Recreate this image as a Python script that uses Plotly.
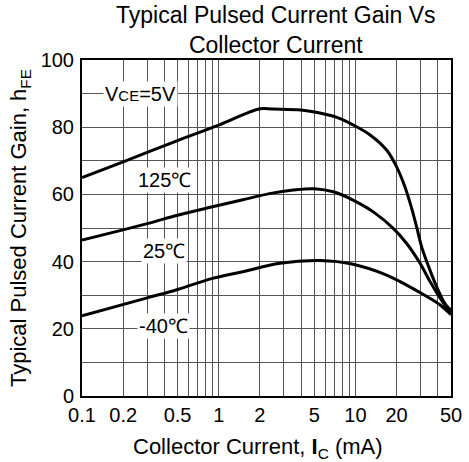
import plotly.graph_objects as go
import math

# ---- data ----
ic_125 = [0.1, 0.2, 0.5, 1, 2, 2.5, 4, 5.5, 7.3, 9.6, 12.8, 16.9, 20, 23, 25.6, 28, 30.5, 34.3, 39.3, 45, 50]
hfe_125 = [65, 69.7, 76, 80.6, 85.5, 85.4, 85.1, 84.2, 82.9, 80.7, 77.7, 73.2, 68.2, 62.3, 56.3, 50.4, 44.4, 38.5, 32.5, 27.6, 25.5]

ic_25 = [0.1, 0.3, 0.5, 0.9, 1.5, 2.4, 3.5, 5, 7, 9.6, 13.5, 18.9, 23.7, 29.7, 35.2, 41.7, 50]
hfe_25 = [46.4, 51.3, 53.8, 56.3, 58.4, 60.3, 61.3, 61.7, 60.7, 58.3, 54.8, 49.9, 45.4, 39.5, 34, 29.1, 24.5]

ic_n40 = [0.1, 0.3, 0.5, 0.9, 1.5, 2.8, 5.5, 9.6, 16.9, 23.7, 33.3, 41.7, 50]
hfe_n40 = [23.9, 29.2, 31.7, 35, 37, 39.5, 40.3, 39.2, 36, 33, 29.6, 27.1, 24.2]

series_names = ["125℃", "25℃", "-40℃"]
label_ic = [0.4, 0.4, 0.395]
label_hfe = [64.3, 43.2, 20.8]

x_grid = [0.1, 0.2, 0.3, 0.4, 0.5, 0.6, 0.7, 0.8, 0.9, 1, 2, 3, 4, 5, 6, 7, 8, 9, 10, 20, 30, 40, 50]
x_labeled = {0.1: "0.1", 0.2: "0.2", 0.5: "0.5", 1: "1", 2: "2", 5: "5", 10: "10", 20: "20", 50: "50"}
y_grid = [0, 10, 20, 30, 40, 50, 60, 70, 80, 90, 100]
y_labeled = [0, 20, 40, 60, 80, 100]

FONT = "Liberation Sans, Arial, sans-serif"

fig = go.Figure()
for xs, ys, nm in [(ic_125, hfe_125, series_names[0]),
                   (ic_25, hfe_25, series_names[1]),
                   (ic_n40, hfe_n40, series_names[2])]:
    fig.add_trace(go.Scatter(x=xs, y=ys, mode="lines", name=nm,
                             line=dict(color="black", width=3, shape="spline", smoothing=1),
                             showlegend=False, hoverinfo="skip"))

annos = []
for nm, lx, ly in zip(series_names, label_ic, label_hfe):
    annos.append(dict(x=math.log10(lx), y=ly, xref="x", yref="y", text=nm, showarrow=False,
                      font=dict(family=FONT, size=20, color="black"),
                      bgcolor="white", borderpad=1))
annos.append(dict(x=math.log10(0.266), y=90, xref="x", yref="y",
                  text="V<span style='font-size:15px'>CE</span>=5V", showarrow=False,
                  font=dict(family=FONT, size=20, color="black"),
                  bgcolor="white", borderpad=1))
# chart title
annos.append(dict(x=0.526, y=1.088, xref="paper", yref="paper", xanchor="center", yanchor="middle",
                  text="Typical Pulsed Current Gain Vs<br>Collector Current", showarrow=False,
                  font=dict(family=FONT, size=23, color="black")))
# x-axis title
annos.append(dict(x=0.476, y=-0.154, xref="paper", yref="paper", xanchor="center", yanchor="middle",
                  text="Collector Current, <b>I</b><sub>C</sub> (mA)", showarrow=False,
                  font=dict(family=FONT, size=22, color="black")))

fig.update_layout(
    width=469, height=462,
    margin=dict(l=82, r=18, t=60, b=66),
    paper_bgcolor="white", plot_bgcolor="white",
    font=dict(family=FONT, color="black"),
    annotations=annos,
)

fig.update_xaxes(
    type="log", range=[math.log10(0.1), math.log10(50)],
    tickvals=x_grid, ticktext=[x_labeled.get(v, "") for v in x_grid],
    tickfont=dict(size=20, family=FONT, color="black"),
    showgrid=True, gridcolor="#555555", gridwidth=1,
    showline=True, linecolor="black", linewidth=2, mirror=True,
    ticks="", ticklabelstandoff=0, zeroline=False, automargin=False,
)
fig.update_yaxes(
    range=[0, 100],
    tickvals=y_grid, ticktext=[str(v) if v in y_labeled else "" for v in y_grid],
    tickfont=dict(size=20, family=FONT, color="black"),
    showgrid=True, gridcolor="#555555", gridwidth=1,
    showline=True, linecolor="black", linewidth=2, mirror=True,
    ticks="", ticklabelstandoff=2, zeroline=False, automargin=False,
    title=dict(text="Typical Pulsed Current Gain, h<sub>FE</sub>",
               font=dict(size=22, family=FONT, color="black"), standoff=8),
)

fig.write_html("out.html", config={"displayModeBar": False},
               post_script="document.body.style.margin='0';document.body.style.overflow='hidden';")
